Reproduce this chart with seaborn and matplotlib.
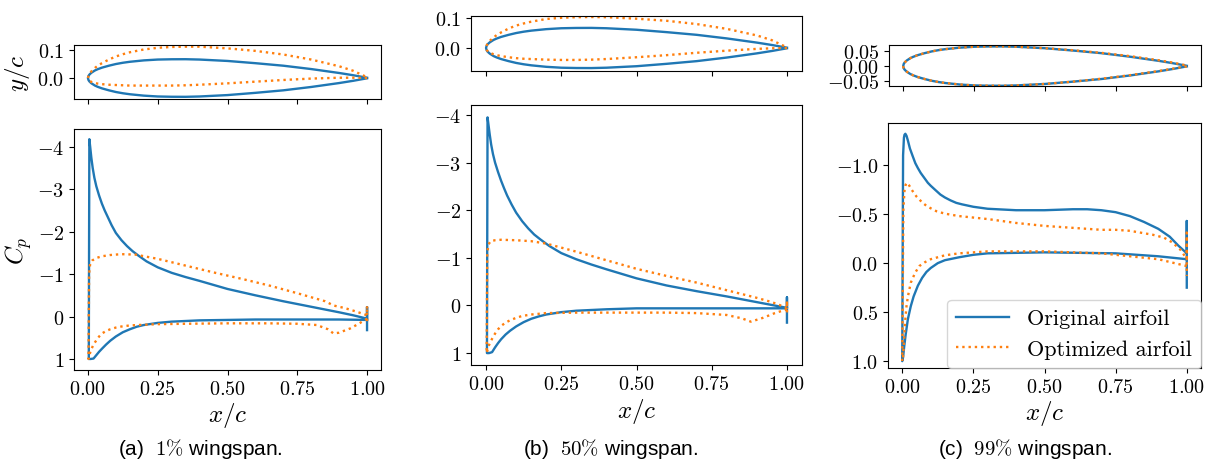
import matplotlib
matplotlib.use("Agg")
import matplotlib.pyplot as plt
import seaborn as sns

plt.rcParams.update({
    "font.family": "serif",
    "font.serif": ["cmr10"],
    "mathtext.fontset": "cm",
    "axes.formatter.use_mathtext": True,
    "axes.unicode_minus": True,
})

ORIG_COLOR = "#1f77b4"
OPT_COLOR = "#ff7f0e"

# ---------------- airfoil geometry (y/c vs x/c) ----------------
geom_x = [0.0, 0.002, 0.005, 0.0075, 0.0125, 0.025, 0.035, 0.05, 0.075, 0.1, 0.125, 0.15,
          0.2, 0.25, 0.3, 0.35, 0.4, 0.5, 0.6, 0.7, 0.8, 0.9, 0.95, 1.0]
orig_up = [0.0, 0.0075, 0.012, 0.0145, 0.019, 0.027, 0.0315, 0.037, 0.044, 0.050, 0.0545, 0.058,
           0.063, 0.066, 0.067, 0.0672, 0.066, 0.061, 0.053, 0.044, 0.032, 0.018, 0.010, 0.001]
orig_lo = [0.0, -0.0075, -0.012, -0.0145, -0.019, -0.027, -0.0315, -0.037, -0.044, -0.050, -0.0545, -0.058,
           -0.063, -0.066, -0.067, -0.0672, -0.066, -0.061, -0.053, -0.044, -0.032, -0.018, -0.010, -0.001]

opt_a_up = [0.0, 0.0085, 0.014, 0.0175, 0.024, 0.036, 0.044, 0.053, 0.066, 0.077, 0.085, 0.092,
            0.102, 0.108, 0.111, 0.112, 0.112, 0.106, 0.097, 0.084, 0.066, 0.042, 0.026, 0.003]
opt_a_lo = [0.0, -0.0055, -0.009, -0.011, -0.014, -0.018, -0.020, -0.022, -0.024, -0.025, -0.026, -0.027,
            -0.027, -0.027, -0.027, -0.026, -0.024, -0.019, -0.013, -0.007, -0.002, 0.001, 0.001, 0.0]

opt_b_up = [0.0, 0.0085, 0.014, 0.0175, 0.024, 0.035, 0.043, 0.052, 0.065, 0.075, 0.082, 0.088,
            0.097, 0.101, 0.103, 0.1035, 0.103, 0.098, 0.091, 0.080, 0.064, 0.042, 0.026, 0.002]
opt_b_lo = [0.0, -0.006, -0.010, -0.0125, -0.016, -0.021, -0.024, -0.027, -0.031, -0.034, -0.036, -0.037,
            -0.039, -0.040, -0.040, -0.039, -0.037, -0.031, -0.024, -0.016, -0.009, -0.003, -0.001, 0.0]

opt_c_up = [0.0, 0.0075, 0.012, 0.0145, 0.019, 0.027, 0.0315, 0.037, 0.044, 0.050, 0.0545, 0.058,
            0.063, 0.066, 0.067, 0.0672, 0.066, 0.061, 0.054, 0.045, 0.034, 0.020, 0.012, 0.002]
opt_c_lo = [0.0, -0.0075, -0.012, -0.0145, -0.019, -0.027, -0.0315, -0.037, -0.044, -0.050, -0.0545, -0.058,
            -0.063, -0.066, -0.067, -0.0672, -0.066, -0.061, -0.053, -0.043, -0.031, -0.017, -0.009, -0.001]

# ---------------- pressure coefficient, 1% span ----------------
cp_a_orig_up_x = [0.003, 0.005, 0.008, 0.012, 0.017, 0.023, 0.03, 0.04, 0.05, 0.06, 0.07, 0.085,
                  0.1, 0.12, 0.14, 0.16, 0.18, 0.21, 0.25, 0.3, 0.35, 0.4, 0.5, 0.6, 0.7, 0.8,
                  0.9, 0.95, 1.0, 1.0, 1.0]
cp_a_orig_up = [1.0, -4.18, -4.00, -3.75, -3.50, -3.27, -3.07, -2.85, -2.66, -2.50, -2.36, -2.15,
                -1.97, -1.80, -1.66, -1.54, -1.44, -1.30, -1.16, -1.03, -0.93, -0.84, -0.65, -0.50,
                -0.36, -0.23, -0.10, -0.03, 0.05, -0.22, 0.32]
cp_a_orig_lo_x = [0.003, 0.01, 0.02, 0.03, 0.04, 0.05, 0.065, 0.08, 0.1, 0.125, 0.15, 0.175,
                  0.2, 0.25, 0.3, 0.4, 0.5, 0.6, 0.7, 0.8, 0.9, 1.0]
cp_a_orig_lo = [1.0, 1.0, 0.99, 0.91, 0.83, 0.76, 0.66, 0.57, 0.47, 0.37, 0.30, 0.24,
                0.20, 0.15, 0.12, 0.09, 0.08, 0.07, 0.07, 0.07, 0.07, 0.08]

cp_a_opt_up_x = [0.002, 0.004, 0.008, 0.015, 0.03, 0.05, 0.08, 0.12, 0.17, 0.25, 0.35, 0.45,
                 0.55, 0.65, 0.75, 0.85, 0.88, 0.92, 0.96, 1.0, 1.0, 1.0]
cp_a_opt_up = [1.0, -1.0, -1.25, -1.32, -1.38, -1.42, -1.45, -1.47, -1.46, -1.36, -1.20, -1.04,
               -0.89, -0.73, -0.55, -0.36, -0.26, -0.20, -0.12, -0.03, -0.25, 0.20]
cp_a_opt_lo_x = [0.002, 0.005, 0.01, 0.02, 0.03, 0.04, 0.05, 0.065, 0.08, 0.1, 0.12, 0.15,
                 0.18, 0.25, 0.35, 0.5, 0.65, 0.75, 0.82, 0.86, 0.88, 0.9, 0.94, 0.97, 1.0]
cp_a_opt_lo = [1.0, 0.92, 0.80, 0.66, 0.56, 0.47, 0.40, 0.34, 0.30, 0.26, 0.235, 0.21,
               0.20, 0.18, 0.17, 0.16, 0.16, 0.17, 0.20, 0.30, 0.40, 0.38, 0.28, 0.17, 0.05]

# ---------------- pressure coefficient, 50% span ----------------
cp_b_orig_up_x = [0.003, 0.005, 0.008, 0.012, 0.017, 0.023, 0.03, 0.04, 0.05, 0.06, 0.07, 0.085,
                  0.1, 0.12, 0.14, 0.16, 0.18, 0.21, 0.25, 0.3, 0.35, 0.4, 0.5, 0.6, 0.7, 0.8,
                  0.9, 0.95, 1.0, 1.0, 1.0]
cp_b_orig_up = [1.0, -3.95, -3.80, -3.60, -3.38, -3.18, -3.00, -2.80, -2.62, -2.46, -2.31, -2.12,
                -1.95, -1.77, -1.62, -1.49, -1.39, -1.25, -1.10, -0.97, -0.86, -0.76, -0.57, -0.42,
                -0.30, -0.19, -0.07, -0.01, 0.05, -0.17, 0.36]
cp_b_orig_lo_x = [0.003, 0.01, 0.02, 0.03, 0.04, 0.05, 0.065, 0.08, 0.1, 0.125, 0.15, 0.175,
                  0.2, 0.25, 0.3, 0.4, 0.5, 0.6, 0.7, 0.8, 0.9, 1.0]
cp_b_orig_lo = [1.0, 1.0, 0.98, 0.88, 0.79, 0.71, 0.61, 0.53, 0.44, 0.35, 0.28, 0.23,
                0.19, 0.14, 0.11, 0.08, 0.06, 0.06, 0.06, 0.06, 0.06, 0.06]

cp_b_opt_up_x = [0.002, 0.004, 0.008, 0.015, 0.03, 0.05, 0.1, 0.15, 0.2, 0.3, 0.4, 0.5,
                 0.6, 0.7, 0.8, 0.9, 0.95, 1.0, 1.0, 1.0]
cp_b_opt_up = [1.0, -1.10, -1.28, -1.35, -1.37, -1.38, -1.37, -1.35, -1.30, -1.13, -0.95, -0.77,
               -0.62, -0.48, -0.32, -0.16, -0.07, 0.05, -0.10, 0.20]
cp_b_opt_lo_x = [0.002, 0.005, 0.01, 0.02, 0.03, 0.04, 0.05, 0.065, 0.08, 0.1, 0.12, 0.15,
                 0.2, 0.3, 0.4, 0.5, 0.6, 0.7, 0.75, 0.8, 0.85, 0.88, 0.92, 0.96, 1.0]
cp_b_opt_lo = [1.0, 0.93, 0.83, 0.70, 0.59, 0.50, 0.43, 0.36, 0.31, 0.26, 0.22, 0.19,
               0.16, 0.15, 0.15, 0.15, 0.15, 0.16, 0.18, 0.20, 0.27, 0.34, 0.26, 0.16, 0.08]

# ---------------- pressure coefficient, 99% span ----------------
cp_c_orig_up_x = [0.0, 0.003, 0.006, 0.008, 0.011, 0.015, 0.02, 0.027, 0.037, 0.046, 0.055, 0.065,
                  0.075, 0.09, 0.1, 0.115, 0.134, 0.15, 0.17, 0.19, 0.21, 0.25, 0.3, 0.4, 0.5,
                  0.6, 0.65, 0.7, 0.75, 0.8, 0.85, 0.9, 0.94, 0.97, 1.0, 1.0, 1.0]
cp_c_orig_up = [1.0, -1.10, -1.28, -1.31, -1.32, -1.30, -1.25, -1.17, -1.09, -1.02, -0.97, -0.92,
                -0.88, -0.82, -0.79, -0.75, -0.70, -0.67, -0.64, -0.615, -0.60, -0.575, -0.555,
                -0.54, -0.54, -0.55, -0.55, -0.54, -0.52, -0.48, -0.42, -0.35, -0.27, -0.18,
                -0.10, -0.43, 0.25]
cp_c_orig_lo_x = [0.0, 0.003, 0.007, 0.012, 0.02, 0.03, 0.04, 0.055, 0.07, 0.085, 0.1, 0.125,
                  0.15, 0.2, 0.25, 0.3, 0.5, 0.75, 0.9, 1.0]
cp_c_orig_lo = [1.0, 0.96, 0.85, 0.73, 0.57, 0.44, 0.34, 0.23, 0.15, 0.09, 0.05, 0.0,
                -0.03, -0.06, -0.085, -0.10, -0.11, -0.10, -0.07, -0.04]

cp_c_opt_up_x = [0.0, 0.004, 0.008, 0.012, 0.016, 0.02, 0.025, 0.032, 0.04, 0.05, 0.06, 0.07,
                 0.085, 0.1, 0.12, 0.15, 0.2, 0.3, 0.4, 0.5, 0.6, 0.7, 0.75, 0.8, 0.88, 0.92,
                 0.95, 0.98, 1.0, 1.0, 1.0]
cp_c_opt_up = [1.0, -0.55, -0.74, -0.80, -0.82, -0.81, -0.79, -0.755, -0.72, -0.68, -0.65, -0.62,
               -0.585, -0.56, -0.53, -0.505, -0.48, -0.45, -0.41, -0.38, -0.36, -0.34, -0.34,
               -0.33, -0.29, -0.26, -0.21, -0.13, -0.04, -0.31, 0.13]
cp_c_opt_lo_x = [0.0, 0.003, 0.006, 0.01, 0.015, 0.02, 0.03, 0.045, 0.06, 0.08, 0.1, 0.15,
                 0.2, 0.3, 0.5, 0.7, 0.8, 0.9, 1.0]
cp_c_opt_lo = [1.0, 0.95, 0.80, 0.60, 0.44, 0.34, 0.20, 0.10, 0.03, -0.01, -0.04, -0.08,
               -0.10, -0.12, -0.12, -0.10, -0.07, -0.04, 0.03]

captions = [r"(a)  $1\%$ wingspan.", r"(b)  $50\%$ wingspan.", r"(c)  $99\%$ wingspan."]
legend_labels = ["Original airfoil", "Optimized airfoil"]

W, H = 1206, 464
fig = plt.figure(figsize=(W / 100, H / 100), dpi=100)


def px_axes(x0, y0, x1, y1):
    return fig.add_axes([x0 / W, 1 - y1 / H, (x1 - x0) / W, (y1 - y0) / H])


def closed_loop(ax, xu, yu, xl, yl, color, ls, label=None):
    x = list(xl[::-1]) + list(xu)
    y = list(yl[::-1]) + list(yu)
    sns.lineplot(x=x, y=y, sort=False, estimator=None, color=color,
                 linestyle=ls, linewidth=1.7, ax=ax, label=label)


TICK_FS = 14.5
LABEL_FS = 18
XT = [0.0, 0.25, 0.5, 0.75, 1.0]

panels = [
    dict(top=(74, 46, 381, 100), bot=(74, 130, 381, 371),
         opt_up=opt_a_up, opt_lo=opt_a_lo, ylim_top=(-0.075, 0.118), yt_top=[0.0, 0.1],
         cp=(cp_a_orig_up_x, cp_a_orig_up, cp_a_orig_lo_x, cp_a_orig_lo,
             cp_a_opt_up_x, cp_a_opt_up, cp_a_opt_lo_x, cp_a_opt_lo),
         ylim_bot=(1.26, -4.42), yt_bot=[-4, -3, -2, -1, 0, 1], ylabels=True, cap_x=200),
    dict(top=(471, 17, 802, 72), bot=(471, 106, 802, 366),
         opt_up=opt_b_up, opt_lo=opt_b_lo, ylim_top=(-0.077, 0.107), yt_top=[0.0, 0.1],
         cp=(cp_b_orig_up_x, cp_b_orig_up, cp_b_orig_lo_x, cp_b_orig_lo,
             cp_b_opt_up_x, cp_b_opt_up, cp_b_opt_lo_x, cp_b_opt_lo),
         ylim_bot=(1.25, -4.21), yt_bot=[-4, -3, -2, -1, 0, 1], ylabels=False, cap_x=611),
    dict(top=(889, 46, 1201, 87), bot=(888, 124, 1201, 369),
         opt_up=opt_c_up, opt_lo=opt_c_lo, ylim_top=(-0.068, 0.072), yt_top=[-0.05, 0.0, 0.05],
         cp=(cp_c_orig_up_x, cp_c_orig_up, cp_c_orig_lo_x, cp_c_orig_lo,
             cp_c_opt_up_x, cp_c_opt_up, cp_c_opt_lo_x, cp_c_opt_lo),
         ylim_bot=(1.07, -1.43), yt_bot=[-1.0, -0.5, 0.0, 0.5, 1.0], ylabels=False, cap_x=1025),
]

for i, p in enumerate(panels):
    # airfoil shape
    ax_t = px_axes(*p["top"])
    closed_loop(ax_t, geom_x, orig_up, geom_x, orig_lo, ORIG_COLOR, "-")
    closed_loop(ax_t, geom_x, p["opt_up"], geom_x, p["opt_lo"], OPT_COLOR, ":")
    ax_t.set_xlim(-0.05, 1.05)
    ax_t.set_ylim(*p["ylim_top"])
    ax_t.set_xticks(XT)
    ax_t.set_yticks(p["yt_top"])
    ax_t.tick_params(labelbottom=False, labelsize=TICK_FS)
    if p["ylabels"]:
        ax_t.set_ylabel(r"$y/c$", fontsize=LABEL_FS)

    # pressure distribution
    ax_b = px_axes(*p["bot"])
    xu, yu, xl, yl, oxu, oyu, oxl, oyl = p["cp"]
    last = i == len(panels) - 1
    closed_loop(ax_b, xu, yu, xl, yl, ORIG_COLOR, "-", legend_labels[0] if last else None)
    closed_loop(ax_b, oxu, oyu, oxl, oyl, OPT_COLOR, ":", legend_labels[1] if last else None)
    ax_b.set_xlim(-0.05, 1.05)
    ax_b.set_ylim(*p["ylim_bot"])
    ax_b.set_xticks(XT)
    ax_b.set_yticks(p["yt_bot"])
    ax_b.tick_params(labelsize=TICK_FS)
    ax_b.set_xlabel(r"$x/c$", fontsize=LABEL_FS, labelpad=2)
    if p["ylabels"]:
        ax_b.set_ylabel(r"$C_p$", fontsize=LABEL_FS, labelpad=2)
    if last:
        ax_b.legend(loc="lower right", fontsize=16, borderaxespad=0.0, handlelength=2.4)

    fig.text(p["cap_x"] / W, 1 - 455 / H, captions[i], ha="center", va="baseline",
             fontsize=15, family="Liberation Sans")

fig.savefig("out.png", dpi=100)
